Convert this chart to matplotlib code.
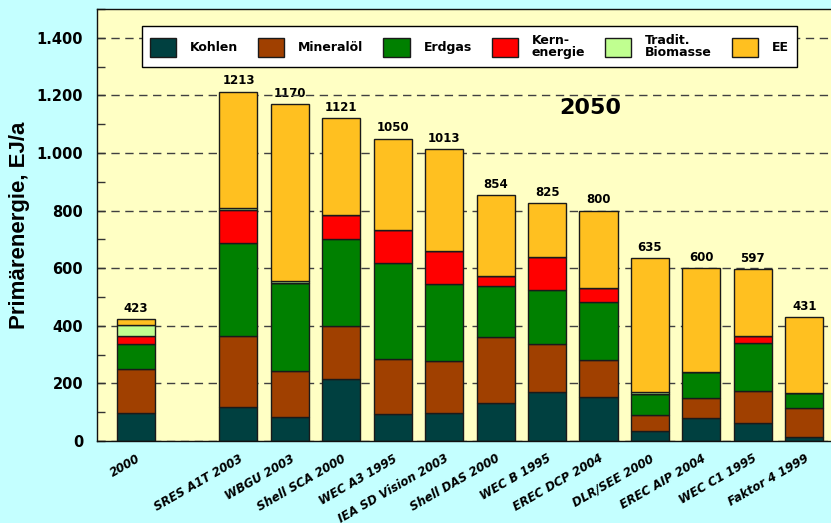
import matplotlib.pyplot as plt
from matplotlib.patches import Patch
from matplotlib.ticker import MultipleLocator, FuncFormatter

scenarios = ["2000", "SRES A1T 2003", "WBGU 2003", "Shell SCA 2000", "WEC A3 1995",
             "IEA SD Vision 2003", "Shell DAS 2000", "WEC B 1995", "EREC DCP 2004",
             "DLR/SEE 2000", "EREC AIP 2004", "WEC C1 1995", "Faktor 4 1999"]
totals = [423, 1213, 1170, 1121, 1050, 1013, 854, 825, 800, 635, 600, 597, 431]
kohlen = [97, 118, 83, 215, 94, 97, 132, 170, 152, 35, 79, 62, 14]
oel = [152, 245, 160, 185, 190, 182, 230, 167, 129, 55, 71, 113, 102]
gas = [87, 325, 305, 302, 334, 266, 177, 189, 200, 73, 89, 164, 50]
kern = [28, 113, 0, 83, 116, 116, 34, 114, 51, 0, 0, 24, 0]
biomasse = [38, 8, 6, 0, 0, 0, 0, 0, 0, 6, 0, 0, 0]
ee = [21, 404, 616, 336, 316, 352, 281, 185, 268, 466, 361, 234, 265]

series = [
    ("Kohlen", kohlen, "#004040"),
    ("Mineralöl", oel, "#a04000"),
    ("Erdgas", gas, "#008000"),
    ("Kern-\nenergie", kern, "#ff0000"),
    ("Tradit.\nBiomasse", biomasse, "#c0ff90"),
    ("EE", ee, "#ffc020"),
]

plt.rcParams["font.family"] = "DejaVu Sans"
plt.rcParams["font.weight"] = "bold"

fig = plt.figure(figsize=(8.31, 5.23), dpi=100, facecolor="#c4ffff")
ax = fig.add_axes([97 / 831, 1 - 441 / 523, 734 / 831, 432 / 523])
ax.set_facecolor("#ffffc4")

# 2000 bar stands apart, one empty slot before the scenarios
xpos = [0] + list(range(2, len(scenarios) + 1))

bottom = [0] * len(scenarios)
for name, vals, col in series:
    ax.bar(xpos, vals, 0.74, bottom=bottom, color=col, edgecolor="#1a1a1a",
           linewidth=1, zorder=2)
    bottom = [b + v for b, v in zip(bottom, vals)]

for x, t in zip(xpos, totals):
    ax.annotate(str(t), (x, t), xytext=(0, 3), textcoords="offset points",
                ha="center", va="bottom", fontsize=8.5, fontweight="bold", zorder=0.4)

ax.set_xlim(-0.75, 13.52)
ax.set_ylim(0, 1500)
ax.yaxis.set_major_locator(MultipleLocator(200))
ax.yaxis.set_minor_locator(MultipleLocator(100))
ax.yaxis.set_major_formatter(FuncFormatter(lambda v, p: f"{int(v):,}".replace(",", ".")))
ax.tick_params(axis="y", which="both", direction="in", length=6, width=1,
               color="#333333", labelsize=10.5, pad=10)
ax.set_yticks([0, 200, 400, 600, 800, 1000, 1200, 1400])
ax.grid(axis="y", which="major", color="#404040", linestyle=(0, (6, 4)), linewidth=1)
ax.set_axisbelow(True)

ax.set_xticks(xpos)
ax.set_xticklabels(scenarios, rotation=30, ha="right", rotation_mode="anchor",
                   fontsize=8.5, fontstyle="italic", fontweight="bold")
ax.tick_params(axis="x", length=0, pad=8)

ax.spines["right"].set_visible(False)
for s in ["left", "bottom", "top"]:
    ax.spines[s].set_color("#111111")
    ax.spines[s].set_linewidth(1)

ax.set_ylabel("Primärenergie, EJ/a", fontsize=16, fontweight="bold",
              family="Liberation Sans", labelpad=5)

ax.text(8.83, 1157, "2050", ha="center", va="center", fontsize=16, fontweight="bold")

handles = [Patch(facecolor=c, edgecolor="#1a1a1a", label=n) for n, v, c in series]
leg = ax.legend(handles=handles, loc="upper center", bbox_to_anchor=(0.5075, 0.9606),
                borderaxespad=0, ncol=6, fontsize=9, handlelength=2.1, handleheight=1.95,
                handletextpad=1.1, columnspacing=1.6, borderpad=0.6,
                fancybox=False, framealpha=1, edgecolor="black")
leg.get_frame().set_linewidth(1)
for t in leg.get_texts():
    t.set_linespacing(0.95)

fig.savefig("out.png", dpi=100, facecolor=fig.get_facecolor())
